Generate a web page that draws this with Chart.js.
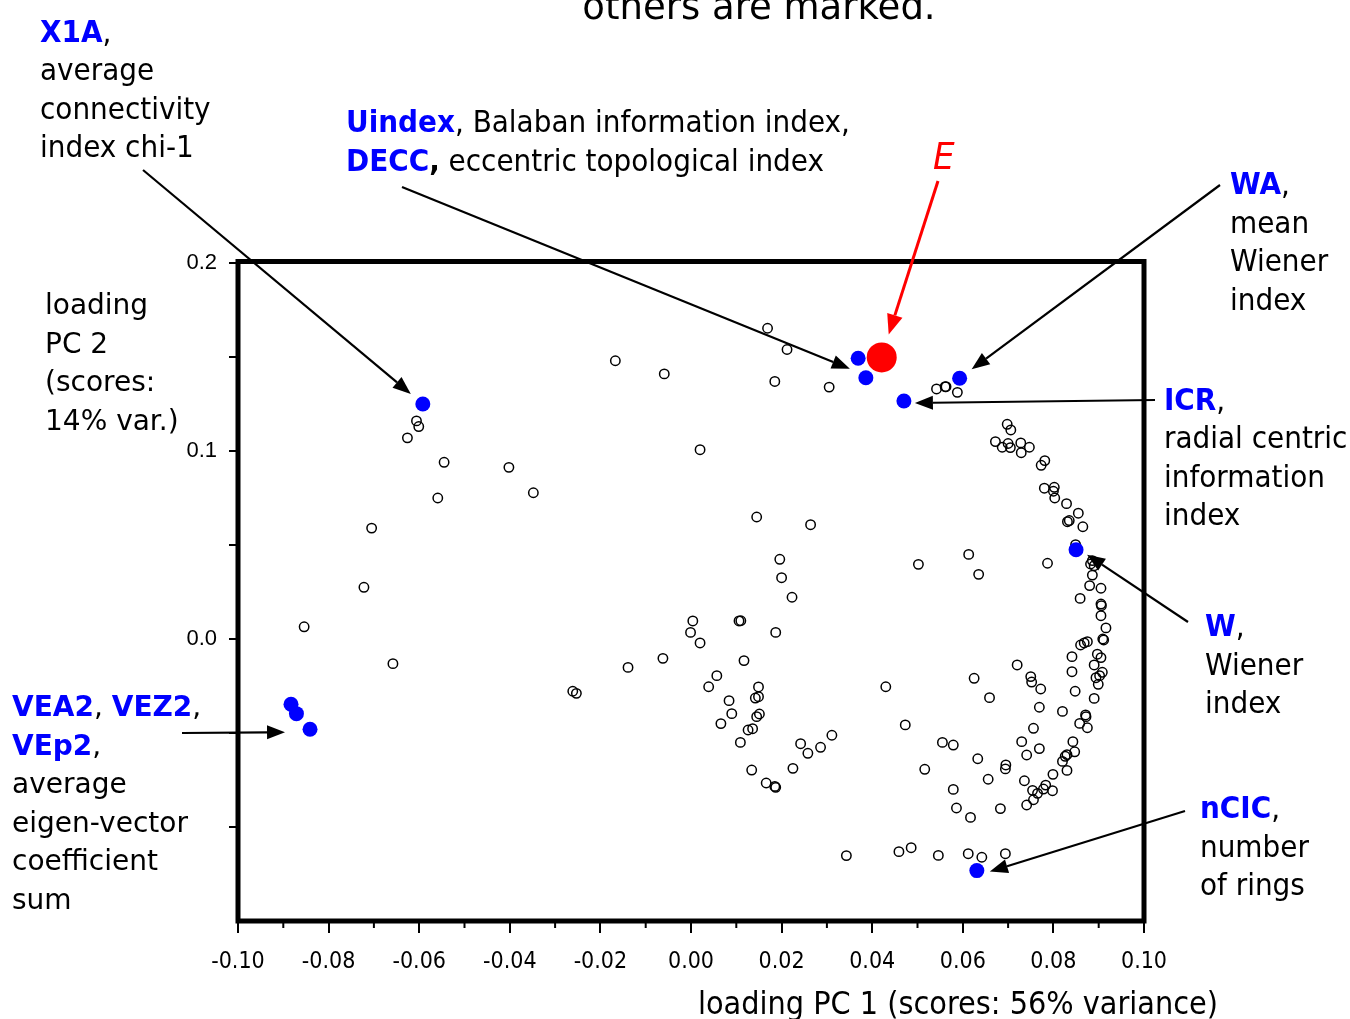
<!DOCTYPE html>
<html>
<head>
<meta charset="utf-8">
<script src="https://cdn.jsdelivr.net/npm/chart.js@4.4.0/dist/chart.umd.min.js"></script>
<style>
  html, body { margin: 0; padding: 0; background: #fff; }
  #wrap { width: 1350px; height: 1019px; }
</style>
</head>
<body>
<div id="wrap"><canvas id="myChart" width="1350" height="1019"></canvas></div>
<script>
// loadings of the other descriptors (open circles), [PC1, PC2]
const upperLeft = [
    [-0.0606, 0.116], [-0.0601, 0.113], [-0.0626, 0.107], [-0.0545, 0.094], [-0.0402, 0.0913],
    [-0.0348, 0.0778], [-0.0559, 0.075], [-0.0705, 0.059], [-0.0722, 0.0275], [-0.0167, 0.148],
    [-0.0059, 0.141], [-0.0854, 0.0065], [-0.0658, -0.0131], [-0.0261, -0.0278], [-0.0253, -0.0289],
    [-0.0139, -0.0151], [-0.0062, -0.0103],
];
const upperMiddle = [
    [0.0169, 0.1653], [0.0212, 0.154], [0.0185, 0.137], [0.0305, 0.134], [0.0542, 0.133],
    [0.0561, 0.1342], [0.0563, 0.1342], [0.0588, 0.1312], [0.002, 0.1007],
];
const ridge = [
    [0.0698, 0.1142], [0.0706, 0.1112], [0.0672, 0.105], [0.0687, 0.102], [0.07, 0.104],
    [0.0705, 0.1018], [0.0728, 0.1043], [0.0729, 0.0991], [0.0747, 0.102], [0.0781, 0.0949],
    [0.0773, 0.0924], [0.078, 0.0802], [0.0802, 0.0807], [0.08, 0.0786], [0.0803, 0.075],
    [0.0829, 0.072], [0.0855, 0.0669], [0.0831, 0.0624], [0.0835, 0.063], [0.0865, 0.0597],
    [0.0849, 0.0502],
];
const rightArc = [
    [0.0886, 0.0417], [0.089, 0.039], [0.0882, 0.0399], [0.0886, 0.034], [0.088, 0.0284],
    [0.0905, 0.027], [0.0787, 0.0403], [0.0859, 0.0216], [0.0905, 0.0186], [0.0906, 0.0177],
    [0.0905, 0.0124], [0.0916, 0.0059], [0.0909, 0.0], [0.0911, -0.0005], [0.0868, -0.0021],
    [0.0875, -0.0014], [0.086, -0.0032], [0.0841, -0.0094], [0.0897, -0.0081], [0.0905, -0.0099],
    [0.089, -0.0138], [0.0841, -0.0174], [0.0894, -0.0206], [0.0902, -0.0195], [0.0908, -0.0177],
    [0.0899, -0.0241], [0.0848, -0.0278], [0.089, -0.0316], [0.072, -0.0138], [0.075, -0.02],
    [0.0752, -0.0229], [0.0772, -0.0266], [0.0769, -0.0363], [0.082, -0.0385], [0.0756, -0.0475],
    [0.073, -0.0546], [0.0741, -0.0617], [0.0769, -0.0583], [0.0858, -0.0449], [0.0871, -0.0404],
    [0.0872, -0.0413], [0.0875, -0.0472], [0.0843, -0.0546], [0.0847, -0.06], [0.082, -0.0651],
    [0.0826, -0.0624], [0.083, -0.0615], [0.083, -0.0699], [0.0799, -0.072], [0.0736, -0.0754],
    [0.0754, -0.0805], [0.0765, -0.0821], [0.0741, -0.0883], [0.0756, -0.0855], [0.0778, -0.0798],
    [0.0783, -0.0777], [0.0798, -0.0807],
];
const centre = [
    [0.0145, 0.0649], [0.0264, 0.0608], [0.0613, 0.045], [0.0635, 0.0344], [0.0502, 0.0397],
    [0.0196, 0.0424], [0.02, 0.0326], [0.0223, 0.0222], [0.0004, 0.0096], [-0.0001, 0.0035],
    [0.002, -0.0021], [0.0106, 0.0096], [0.011, 0.0097], [0.0187, 0.0035], [0.0117, -0.0115],
    [0.0057, -0.0195], [0.0039, -0.0254], [0.0149, -0.0255], [0.0142, -0.0314], [0.0149, -0.0307],
    [0.0084, -0.0328], [0.009, -0.0397], [0.0066, -0.045], [0.0145, -0.0413], [0.0151, -0.0399],
    [0.0126, -0.0484], [0.0136, -0.0477], [0.0109, -0.055], [0.0134, -0.0697], [0.0166, -0.0766],
    [0.0185, -0.0784], [0.0187, -0.0789], [0.0225, -0.0688], [0.0242, -0.0557], [0.0258, -0.0608],
    [0.0286, -0.0576], [0.0311, -0.0512], [0.043, -0.0254], [0.0473, -0.0457], [0.0516, -0.0693],
    [0.0555, -0.055], [0.0579, -0.0564], [0.0579, -0.08], [0.0586, -0.0899], [0.0617, -0.0949],
    [0.0633, -0.0637], [0.0656, -0.0746], [0.0625, -0.0209], [0.0659, -0.0312], [0.0683, -0.0902],
    [0.0695, -0.067], [0.0694, -0.0691],
];
const bottomRow = [
    [0.0343, -0.1152], [0.0459, -0.1131], [0.0486, -0.111], [0.0546, -0.1151], [0.0612, -0.1142],
    [0.0642, -0.1161], [0.0694, -0.1142],
];

// marked descriptors (blue dots)
const markedNames = ['X1A', 'Uindex', 'DECC', 'WA', 'ICR', 'W', 'nCIC', 'VEA2', 'VEZ2', 'VEp2'];
const markedX = [-0.0592, 0.0369, 0.0386, 0.0593, 0.047, 0.085, 0.0631, -0.0883, -0.0871, -0.0841];
const markedY = [0.125, 0.1493, 0.139, 0.1387, 0.1266, 0.0475, -0.1232, -0.0347, -0.0397, -0.048];

// property E (red dot)
const eX = [0.0421];
const eY = [0.1498];

const xRange = [-0.1, 0.1];
const yRange = [-0.15, 0.2];
const yTickLabels = ['0.0', '0.1', '0.2'];

const others = [].concat(upperLeft, upperMiddle, ridge, rightArc, centre, bottomRow)
    .map(p => ({ x: p[0], y: p[1] }));

const TAHOMA = '"DejaVu Sans Condensed", "DejaVu Sans"';
const VERDANA = '"DejaVu Sans"';
const BLUE = '#0000ff';

// label blocks: each line is a list of [text, style]; b = bold blue, k = bold black
const blocks = [
    { x: 40, y: 41.5, lh: 38.5, fam: TAHOMA, size: 31, lines: [
        [['X1A', 'b'], [',', 'n']], [['average', 'n']], [['connectivity', 'n']], [['index chi-1', 'n']]] },
    { x: 346, y: 132, lh: 38.5, fam: TAHOMA, size: 31, lines: [
        [['Uindex', 'b'], [', Balaban information index,', 'n']],
        [['DECC', 'b'], [',', 'k'], [' eccentric topological index', 'n']]] },
    { x: 1230, y: 194, lh: 38.5, fam: TAHOMA, size: 31, lines: [
        [['WA', 'b'], [',', 'n']], [['mean', 'n']], [['Wiener', 'n']], [['index', 'n']]] },
    { x: 1164, y: 409.5, lh: 38.5, fam: TAHOMA, size: 31, lines: [
        [['ICR', 'b'], [',', 'n']], [['radial centric', 'n']], [['information', 'n']], [['index', 'n']]] },
    { x: 1205, y: 636, lh: 38.5, fam: TAHOMA, size: 31, lines: [
        [['W', 'b'], [',', 'n']], [['Wiener', 'n']], [['index', 'n']]] },
    { x: 1200, y: 818, lh: 38.5, fam: TAHOMA, size: 31, lines: [
        [['nCIC', 'b'], [',', 'n']], [['number', 'n']], [['of rings', 'n']]] },
    { x: 12, y: 716, lh: 38.5, fam: VERDANA, size: 28, lines: [
        [['VEA2', 'b'], [', ', 'n'], ['VEZ2', 'b'], [',', 'n']], [['VEp2', 'b'], [',', 'n']],
        [['average', 'n']], [['eigen-vector', 'n']], [['coefficient', 'n']], [['sum', 'n']]] },
    { x: 45, y: 314, lh: 38.5, fam: VERDANA, size: 28, lines: [
        [['loading', 'n']], [['PC 2', 'n']], [['(scores:', 'n']], [['14% var.)', 'n']]] },
    { x: 698, y: 1014, lh: 38.5, fam: TAHOMA, size: 32, lines: [
        [['loading PC 1 (scores: 56% variance)', 'n']]] },
];

// arrows: tail in pixels, head next to a marked point
const arrows = [
    { from: [143, 170], to: 'X1A', off: [-12, -10] },
    { from: [402, 187], to: 'DECC', off: [-16, -9] },
    { from: [1220, 185], to: 'WA', off: [12, -9] },
    { from: [1155, 400], to: 'ICR', off: [11, 2] },
    { from: [1188, 622], to: 'W', off: [11, 5] },
    { from: [1185, 811], to: 'nCIC', off: [13, 1] },
    { from: [182, 733], to: 'VEp2', off: [-25, 3] },
];

function drawArrow(ctx, x0, y0, x1, y1, color, w, hl, hw) {
    const a = Math.atan2(y1 - y0, x1 - x0);
    const bx = x1 - hl * Math.cos(a), by = y1 - hl * Math.sin(a);
    ctx.strokeStyle = color;
    ctx.fillStyle = color;
    ctx.lineWidth = w;
    ctx.beginPath();
    ctx.moveTo(x0, y0);
    ctx.lineTo(bx, by);
    ctx.stroke();
    ctx.beginPath();
    ctx.moveTo(x1, y1);
    ctx.lineTo(bx + hw * Math.sin(a), by - hw * Math.cos(a));
    ctx.lineTo(bx - hw * Math.sin(a), by + hw * Math.cos(a));
    ctx.closePath();
    ctx.fill();
}

const annotate = {
    id: 'annotate',
    beforeDatasetsDraw(chart) {
        const { ctx, chartArea: a, scales: { x } } = chart;
        ctx.save();
        ctx.strokeStyle = '#000';
        // minor ticks half way between the labelled ones
        ctx.lineWidth = 2;
        const t = x.ticks;
        for (let i = 0; i < t.length - 1; i++) {
            const px = x.getPixelForValue((t[i].value + t[i + 1].value) / 2);
            ctx.beginPath();
            ctx.moveTo(px, a.bottom);
            ctx.lineTo(px, a.bottom + 7);
            ctx.stroke();
        }
        ctx.lineWidth = 5;
        ctx.strokeRect(a.left, a.top - 1.5, a.right - a.left, a.bottom - a.top + 1.5);
        ctx.restore();
    },
    afterDraw(chart) {
        const { ctx, scales: { x, y } } = chart;
        ctx.save();
        arrows.forEach(ar => {
            const i = markedNames.indexOf(ar.to);
            const px = x.getPixelForValue(markedX[i]) + ar.off[0];
            const py = y.getPixelForValue(markedY[i]) + ar.off[1];
            drawArrow(ctx, ar.from[0], ar.from[1], px, py, '#000', 2.2, 18, 7);
        });
        const ex = x.getPixelForValue(eX[0]) + 7;
        const ey = y.getPixelForValue(eY[0]) - 23;
        drawArrow(ctx, 938, 181, ex, ey, '#ff0000', 3, 20, 8);

        ctx.textBaseline = 'alphabetic';
        ctx.textAlign = 'left';
        blocks.forEach(b => {
            b.lines.forEach((line, li) => {
                let cx = b.x;
                const cy = b.y + li * b.lh;
                line.forEach(([txt, st]) => {
                    const bold = st === 'b' || st === 'k';
                    ctx.font = (bold ? 'bold ' : '') + b.size + 'px ' + b.fam;
                    ctx.fillStyle = st === 'b' ? BLUE : '#000';
                    ctx.fillText(txt, cx, cy);
                    cx += ctx.measureText(txt).width;
                });
            });
        });

        ctx.font = 'italic 38px ' + TAHOMA;
        ctx.fillStyle = '#ff0000';
        ctx.fillText('E', 933, 169);

        ctx.font = '37px ' + VERDANA;
        ctx.fillStyle = '#000';
        ctx.textAlign = 'center';
        ctx.fillText('others are marked.', 759, 19);
        ctx.restore();
    },
};

const config = {
    type: 'scatter',
    data: {
        datasets: [
            {
                label: 'E',
                data: eX.map((v, i) => ({ x: v, y: eY[i] })),
                pointRadius: 15,
                backgroundColor: '#ff0000',
                borderWidth: 0,
                order: 0,
            },
            {
                label: 'marked',
                data: markedX.map((v, i) => ({ x: v, y: markedY[i] })),
                pointRadius: 7.5,
                backgroundColor: BLUE,
                borderWidth: 0,
                order: 1,
            },
            {
                label: 'others',
                data: others,
                pointRadius: 4.7,
                backgroundColor: 'rgba(0,0,0,0)',
                borderColor: '#000',
                borderWidth: 1.5,
                order: 2,
            },
        ],
    },
    options: {
        responsive: false,
        animation: false,
        devicePixelRatio: 1,
        layout: { padding: { left: 0, top: 263, right: 206, bottom: 0 } },
        plugins: { legend: false, tooltip: { enabled: false } },
        scales: {
            x: {
                type: 'linear',
                min: xRange[0],
                max: xRange[1],
                afterFit: s => { s.height = 98; },
                border: { display: false },
                grid: { drawOnChartArea: false, drawTicks: true, tickLength: 12, lineWidth: 2, color: '#000' },
                ticks: {
                    stepSize: 0.02,
                    autoSkip: false,
                    maxRotation: 0,
                    padding: 15,
                    color: '#000',
                    font: { family: TAHOMA, size: 23 },
                    callback: v => (Math.abs(v) < 1e-9 ? 0 : v).toFixed(2),
                },
            },
            y: {
                type: 'linear',
                min: yRange[0],
                max: yRange[1],
                afterFit: s => { s.width = 238; },
                border: { display: false },
                grid: {
                    drawOnChartArea: false,
                    drawTicks: true,
                    tickLength: 9,
                    lineWidth: 2,
                    color: c => (c.tick && c.tick.value < -0.14 ? 'rgba(0,0,0,0)' : '#000'),
                },
                ticks: {
                    stepSize: 0.05,
                    autoSkip: false,
                    padding: 12,
                    color: '#000',
                    font: { family: '"Liberation Sans", Arial', size: 22 },
                    callback: v => {
                        const s = (Math.abs(v) < 1e-9 ? 0 : v).toFixed(1);
                        return yTickLabels.includes(s) && Math.abs(v * 10 - Math.round(v * 10)) < 1e-6 ? s : '';
                    },
                },
            },
        },
    },
    plugins: [annotate],
};

var myChart = new Chart(document.getElementById('myChart'), config);
</script>
</body>
</html>
